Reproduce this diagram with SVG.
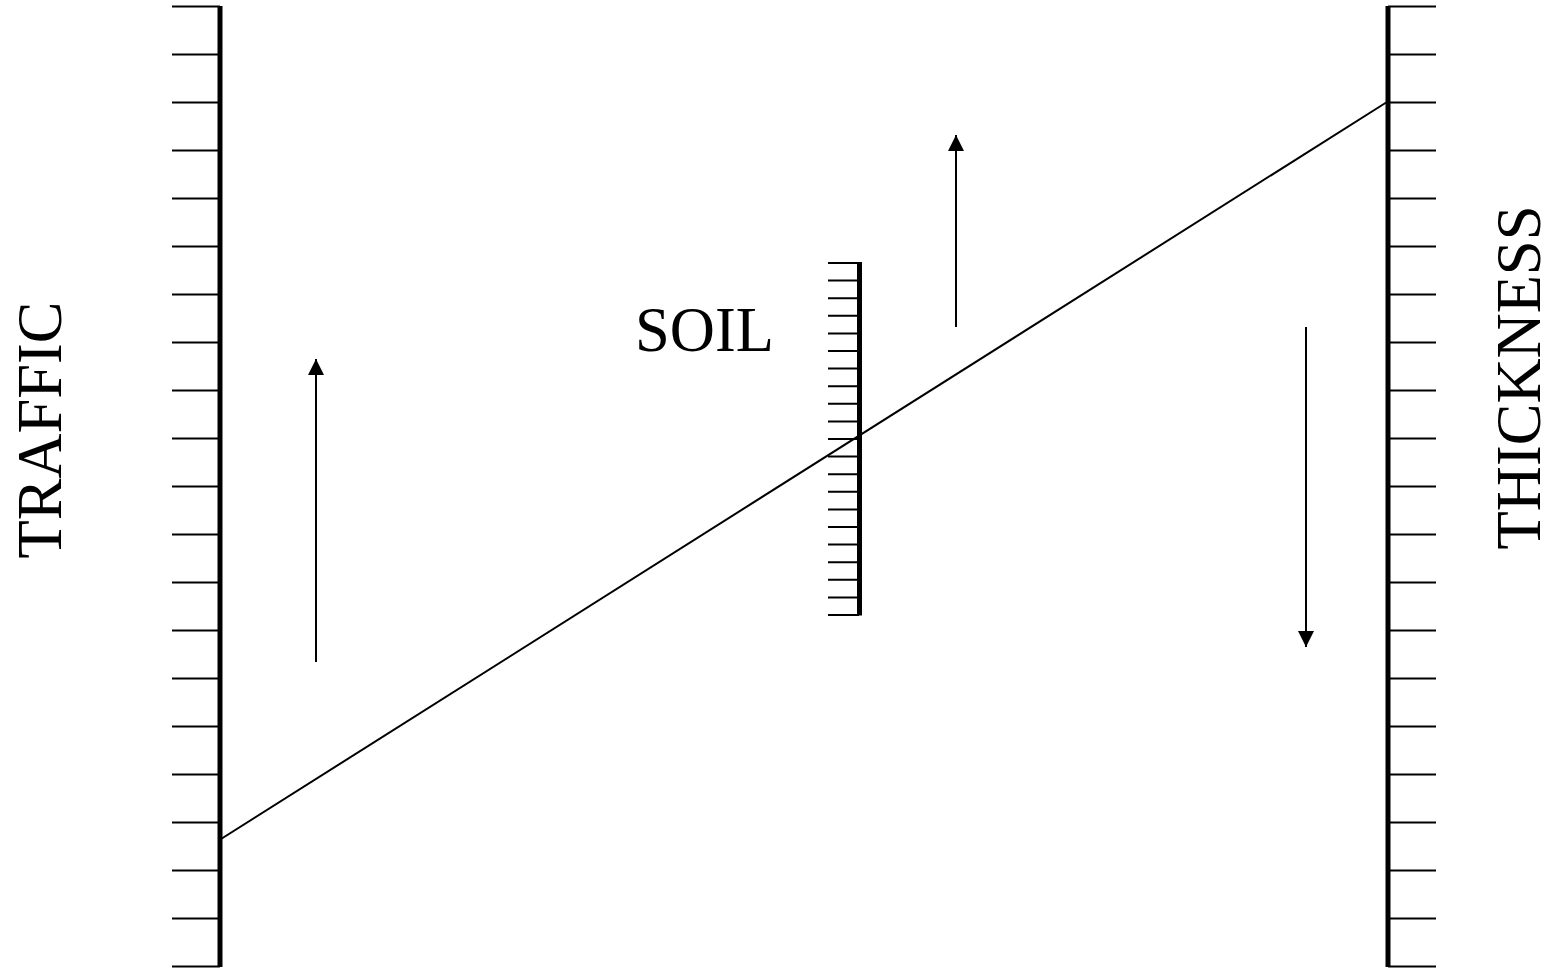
<svg xmlns="http://www.w3.org/2000/svg" width="1554" height="971" viewBox="0 0 1554 971">
<defs>
<style>
.axis{stroke:#000;stroke-width:5;fill:none}
.tick{stroke:#000;stroke-width:2;fill:none}
.thin{stroke:#000;stroke-width:2;fill:none}
.lbl{font-family:"Liberation Serif","Times New Roman",serif;font-size:62.5px;fill:#000}
</style>
<marker id="ah" viewBox="0 0 10 10" refX="10" refY="5" markerWidth="8" markerHeight="8" markerUnits="userSpaceOnUse" orient="auto">
<path d="M0,0 L10,5 L0,10 z" fill="#000"/>
</marker>
<marker id="ah2" viewBox="0 0 16 16" refX="16" refY="8" markerWidth="16" markerHeight="16" markerUnits="userSpaceOnUse" orient="auto">
<path d="M0,0 L16,8 L0,16 z" fill="#000"/>
</marker>
</defs>
<rect width="1554" height="971" fill="#fff"/>
<g id="traffic-scale">
<line class="axis" x1="220" y1="6" x2="220" y2="967"/>
<path class="tick" d="M172,6.5H220M172,54.5H220M172,102.5H220M172,150.5H220M172,198.5H220M172,246.5H220M172,294.5H220M172,342.5H220M172,390.5H220M172,438.5H220M172,486.5H220M172,534.5H220M172,582.5H220M172,630.5H220M172,678.5H220M172,726.5H220M172,774.5H220M172,822.5H220M172,870.5H220M172,918.5H220M172,966.5H220"/>
<text class="lbl" transform="translate(61,430) rotate(-90)" text-anchor="middle">TRAFFIC</text>
</g>
<g id="soil-scale">
<line class="axis" x1="859.5" y1="262" x2="859.5" y2="615.5"/>
<path class="tick" d="M828,263H859M828,280.6H859M828,298.2H859M828,315.8H859M828,333.4H859M828,351H859M828,368.6H859M828,386.2H859M828,403.8H859M828,421.4H859M828,439H859M828,456.6H859M828,474.2H859M828,491.8H859M828,509.4H859M828,527H859M828,544.6H859M828,562.2H859M828,579.8H859M828,597.4H859M828,615H859"/>
<text class="lbl" x="635" y="351">SOIL</text>
</g>
<g id="thickness-scale">
<line class="axis" x1="1388" y1="6" x2="1388" y2="967"/>
<path class="tick" d="M1388,6.5H1436M1388,54.5H1436M1388,102.5H1436M1388,150.5H1436M1388,198.5H1436M1388,246.5H1436M1388,294.5H1436M1388,342.5H1436M1388,390.5H1436M1388,438.5H1436M1388,486.5H1436M1388,534.5H1436M1388,582.5H1436M1388,630.5H1436M1388,678.5H1436M1388,726.5H1436M1388,774.5H1436M1388,822.5H1436M1388,870.5H1436M1388,918.5H1436M1388,966.5H1436"/>
<text class="lbl" transform="translate(1540,377.5) rotate(-90)" text-anchor="middle">THICKNESS</text>
</g>
<g id="connectors">
<line class="thin" x1="221" y1="839" x2="1387" y2="102"/>
<line class="thin" x1="316" y1="662" x2="316" y2="359" marker-end="url(#ah2)"/>
<line class="thin" x1="956" y1="327" x2="956" y2="135" marker-end="url(#ah2)"/>
<line class="thin" x1="1306" y1="327" x2="1306" y2="647" marker-end="url(#ah2)"/>
</g>
</svg>
